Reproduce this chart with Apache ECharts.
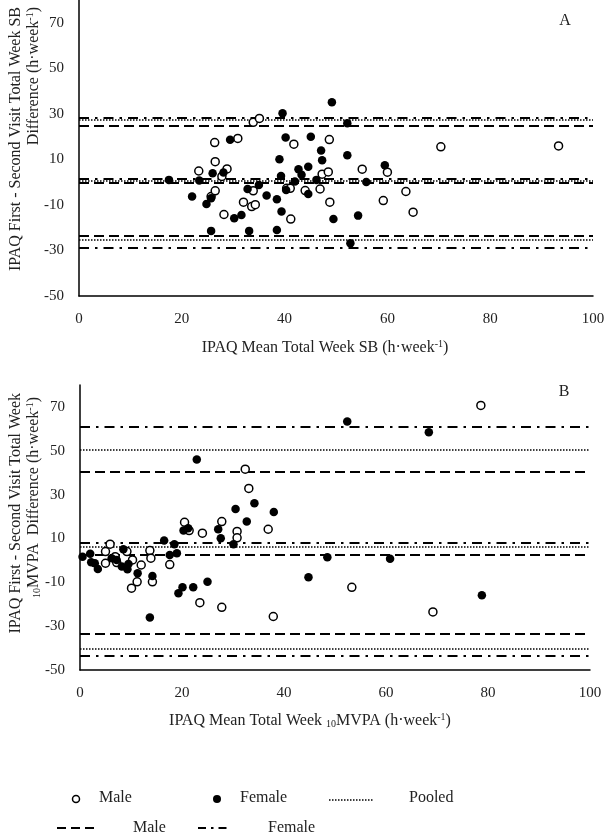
<!DOCTYPE html>
<html><head><meta charset="utf-8">
<script src="https://cdn.jsdelivr.net/npm/echarts@6/dist/echarts.min.js"></script>
<style>html,body{margin:0;padding:0;background:#fff}#c{width:615px;height:833px}</style>
</head><body><div id="c"></div>
<script>
// ---- tick labels ----
const xTicks = [0, 20, 40, 60, 80, 100];
const yTicks = [-50, -30, -10, 10, 30, 50, 70];
const yMax = 80;

// ---- Panel A: SB (mean, difference) ----
const sbMale = [
  [23.3,4.9],[25.7,-6.3],[26.4,17.4],[26.5,9.0],[26.5,-3.8],[27.8,2.5],[28.2,-14.2],[28.8,5.8],
  [30.9,19.2],[32.0,-8.8],[33.6,-10.7],[33.9,26.3],[33.9,-3.8],[34.3,-9.9],[35.1,28.0],[40.4,-2.7],
  [41.1,-2.7],[41.2,-16.2],[41.8,16.7],[44.0,-3.7],[46.9,-3.0],[47.3,3.5],[48.5,4.5],[48.7,18.7],
  [48.8,-8.8],[55.1,5.7],[59.2,-8.1],[60.0,4.4],[63.6,-4.1],[65.0,-13.2],[70.4,15.5],[93.3,15.9]
];
const sbFemale = [
  [17.5,1.0],[22.0,-6.3],[23.4,0.7],[24.8,-9.6],[25.7,-7.1],[26.0,3.9],[25.7,-21.4],[28.1,4.2],
  [29.4,18.6],[30.2,-15.9],[31.6,-14.4],[32.8,-3.0],[33.1,-21.4],[35.0,-1.2],[36.5,-5.9],[38.5,-7.5],
  [38.5,-21.0],[39.0,10.1],[39.3,2.7],[39.4,-12.9],[39.6,30.3],[40.2,19.6],[40.3,-3.4],[42.0,0.3],
  [42.7,5.7],[43.3,3.2],[44.6,6.8],[44.6,-5.2],[45.1,19.9],[46.2,1.0],[47.1,13.9],[47.3,9.6],
  [49.2,35.1],[49.5,-16.2],[52.2,25.9],[52.2,11.8],[52.8,-26.8],[54.3,-14.7],[55.9,0.1],[59.5,7.4]
];
// [upper LoA, mean bias, lower LoA]
const sbPooledLines = [27.6, 0.8, -25.1];
const sbMaleLines = [24.7, -0.3, -23.6];
const sbFemaleLines = [28.1, 1.6, -28.6];

// ---- Panel B: 10MVPA (mean, difference) ----
const mvpaMale = [
  [5.0,4.0],[5.0,-1.3],[5.9,7.4],[6.9,1.7],[7.2,-1.0],[9.2,4.0],[10.1,-12.7],[10.3,0.2],
  [11.2,-9.8],[12.0,-2.1],[13.7,4.5],[13.9,1.0],[14.2,-9.8],[17.6,-1.9],[20.5,17.4],[21.4,13.6],
  [23.5,-19.3],[24.0,12.4],[27.8,-21.4],[27.8,17.7],[30.8,13.2],[30.8,10.3],[32.4,41.6],[33.1,32.8],
  [36.9,14.2],[37.9,-25.6],[53.3,-12.3],[69.2,-23.5],[78.6,70.7]
];
const mvpaFemale = [
  [0.5,1.7],[2.0,3.0],[2.2,-0.8],[2.9,-1.3],[3.5,-3.9],[6.2,1.0],[7.2,0.2],[8.2,-2.8],
  [8.5,5.1],[9.3,-4.0],[9.5,-1.6],[11.3,-5.9],[13.7,-26.1],[14.2,-7.1],[16.5,9.1],[17.6,2.5],
  [18.5,7.4],[19.0,3.3],[19.3,-15.0],[20.1,-12.3],[20.3,13.6],[21.2,14.7],[22.2,-12.3],[22.9,46.0],
  [25.0,-9.8],[27.1,14.2],[27.6,10.1],[30.1,7.4],[30.5,23.4],[32.7,17.7],[34.2,26.1],[38.0,22.1],
  [44.8,-7.7],[48.5,1.4],[52.4,63.4],[60.8,0.7],[68.4,58.5],[78.8,-15.9]
];
const mvpaPooledLines = [50.5, 6.0, -40.3];
const mvpaMaleLines = [40.5, 2.4, -33.6];
const mvpaFemaleLines = [61.1, 8.0, -43.7];

const FONT = '"Liberation Serif", "Times New Roman", serif';
const TXT = '#222';
const dotted = [1.5, 1.5];
const dashed = [10, 5];
const dashDot = [10, 6, 2.5, 6];

function xAxisCfg(idx) {
  return {
    gridIndex: idx, type: 'value', min: xTicks[0], max: xTicks[xTicks.length - 1],
    interval: xTicks[1] - xTicks[0],
    axisLine: { show: true, onZero: false, lineStyle: { color: '#000', width: 1.5 } },
    axisTick: { show: false }, splitLine: { show: false },
    axisLabel: { color: TXT, fontFamily: FONT, fontSize: 15, margin: 16 }
  };
}
function yAxisCfg(idx) {
  return {
    gridIndex: idx, type: 'value', min: yTicks[0], max: yMax,
    interval: yTicks[1] - yTicks[0],
    axisLine: { show: true, onZero: false, lineStyle: { color: '#000', width: 1.5 } },
    axisTick: { show: false }, splitLine: { show: false },
    axisLabel: { color: TXT, fontFamily: FONT, fontSize: 15, margin: 15, showMaxLabel: false,
      formatter: v => (yTicks.indexOf(v) >= 0 ? String(v) : '') }
  };
}
function lineSeries(idx, name, vals, dash, width) {
  return {
    name: name, type: 'line', xAxisIndex: idx, yAxisIndex: idx, data: [], z: 1,
    markLine: {
      silent: true, symbol: ['none', 'none'], animation: false,
      label: { show: false },
      lineStyle: { color: '#000', type: dash, width: width, opacity: 1 },
      data: vals.map(v => ({ yAxis: v }))
    }
  };
}
function scatter(idx, name, data, open) {
  return {
    name: name, type: 'scatter', xAxisIndex: idx, yAxisIndex: idx, data: data, z: 5,
    symbol: 'circle', symbolSize: open ? 8 : 8.5,
    itemStyle: open ? { color: '#fff', borderColor: '#000', borderWidth: 1.5, opacity: 1 }
                    : { color: '#000', opacity: 1 }
  };
}

const rich = {
  sup: { fontFamily: FONT, fontSize: 10, verticalAlign: 'top', lineHeight: 18, color: TXT, padding: [0, 0, 6, 0] },
  sub: { fontFamily: FONT, fontSize: 10, lineHeight: 18, color: TXT, padding: [6, 0, 0, 0] },
  n: { fontFamily: FONT, fontSize: 16, lineHeight: 18, color: TXT }
};
function txt(x, y, text, opts) {
  opts = opts || {};
  return {
    type: 'text', x: x, y: y, rotation: opts.rot || 0, silent: true,
    style: {
      text: text, rich: rich, fill: TXT, font: (opts.size || 16) + 'px ' + FONT,
      align: opts.align || 'left', verticalAlign: 'middle',
      textAlign: opts.align || 'left', textVerticalAlign: 'middle'
    }
  };
}

const graphics = [
  txt(565, 21, 'A', { align: 'center' }),
  txt(564, 392, 'B', { align: 'center' }),
  // axis titles
  txt(325, 348, '{n|IPAQ Mean Total Week SB (h·week}{sup|-1}{n|)}', { align: 'center' }),
  txt(310, 721, '{n|IPAQ Mean Total Week }{sub|10}{n|MVPA (h·week}{sup|-1}{n|)}', { align: 'center' }),
  txt(16, 7, '{n|IPAQ First - Second Visit Total Week SB}', { align: 'right', rot: Math.PI / 2 }),
  txt(34, 7, '{n|Difference (h·week}{sup|-1}{n|)}', { align: 'right', rot: Math.PI / 2 }),
  txt(16, 393, '{n|IPAQ First - Second Visit Total Week}', { align: 'right', rot: Math.PI / 2 }),
  txt(34, 397, '{sub|10}{n|MVPA  Difference (h·week}{sup|-1}{n|)}', { align: 'right', rot: Math.PI / 2 }),
  // legend
  { type: 'circle', shape: { cx: 76, cy: 799, r: 3.5 }, style: { fill: '#fff', stroke: '#000', lineWidth: 1.5 } },
  txt(99, 798, 'Male'),
  { type: 'circle', shape: { cx: 217, cy: 799, r: 4 }, style: { fill: '#000' } },
  txt(240, 798, 'Female'),
  { type: 'line', shape: { x1: 329, y1: 800, x2: 373, y2: 800 }, style: { stroke: '#000', lineWidth: 1.5, lineDash: dotted } },
  txt(409, 798, 'Pooled'),
  { type: 'line', shape: { x1: 57, y1: 828, x2: 96, y2: 828 }, style: { stroke: '#000', lineWidth: 2, lineDash: [9, 5] } },
  txt(133, 828, 'Male'),
  { type: 'line', shape: { x1: 198, y1: 828, x2: 230, y2: 828 }, style: { stroke: '#000', lineWidth: 2, lineDash: [8, 5, 2.5, 5] } },
  txt(268, 828, 'Female')
];

const chart = echarts.init(document.getElementById('c'), null, { renderer: 'canvas' });
chart.setOption({
  animation: false,
  backgroundColor: '#fff',
  grid: [
    { left: 79, top: 0, width: 514, height: 296 },
    { left: 80, top: 385, width: 510, height: 285 }
  ],
  xAxis: [xAxisCfg(0), xAxisCfg(1)],
  yAxis: [yAxisCfg(0), yAxisCfg(1)],
  series: [
    lineSeries(0, 'Pooled', sbPooledLines, dotted, 1.5),
    lineSeries(0, 'Male LoA', sbMaleLines, dashed, 2),
    lineSeries(0, 'Female LoA', sbFemaleLines, dashDot, 2),
    scatter(0, 'Male', sbMale, true),
    scatter(0, 'Female', sbFemale, false),
    lineSeries(1, 'Pooled', mvpaPooledLines, dotted, 1.5),
    lineSeries(1, 'Male LoA', mvpaMaleLines, dashed, 2),
    lineSeries(1, 'Female LoA', mvpaFemaleLines, dashDot, 2),
    scatter(1, 'Male', mvpaMale, true),
    scatter(1, 'Female', mvpaFemale, false)
  ],
  graphic: graphics
});
</script></body></html>
